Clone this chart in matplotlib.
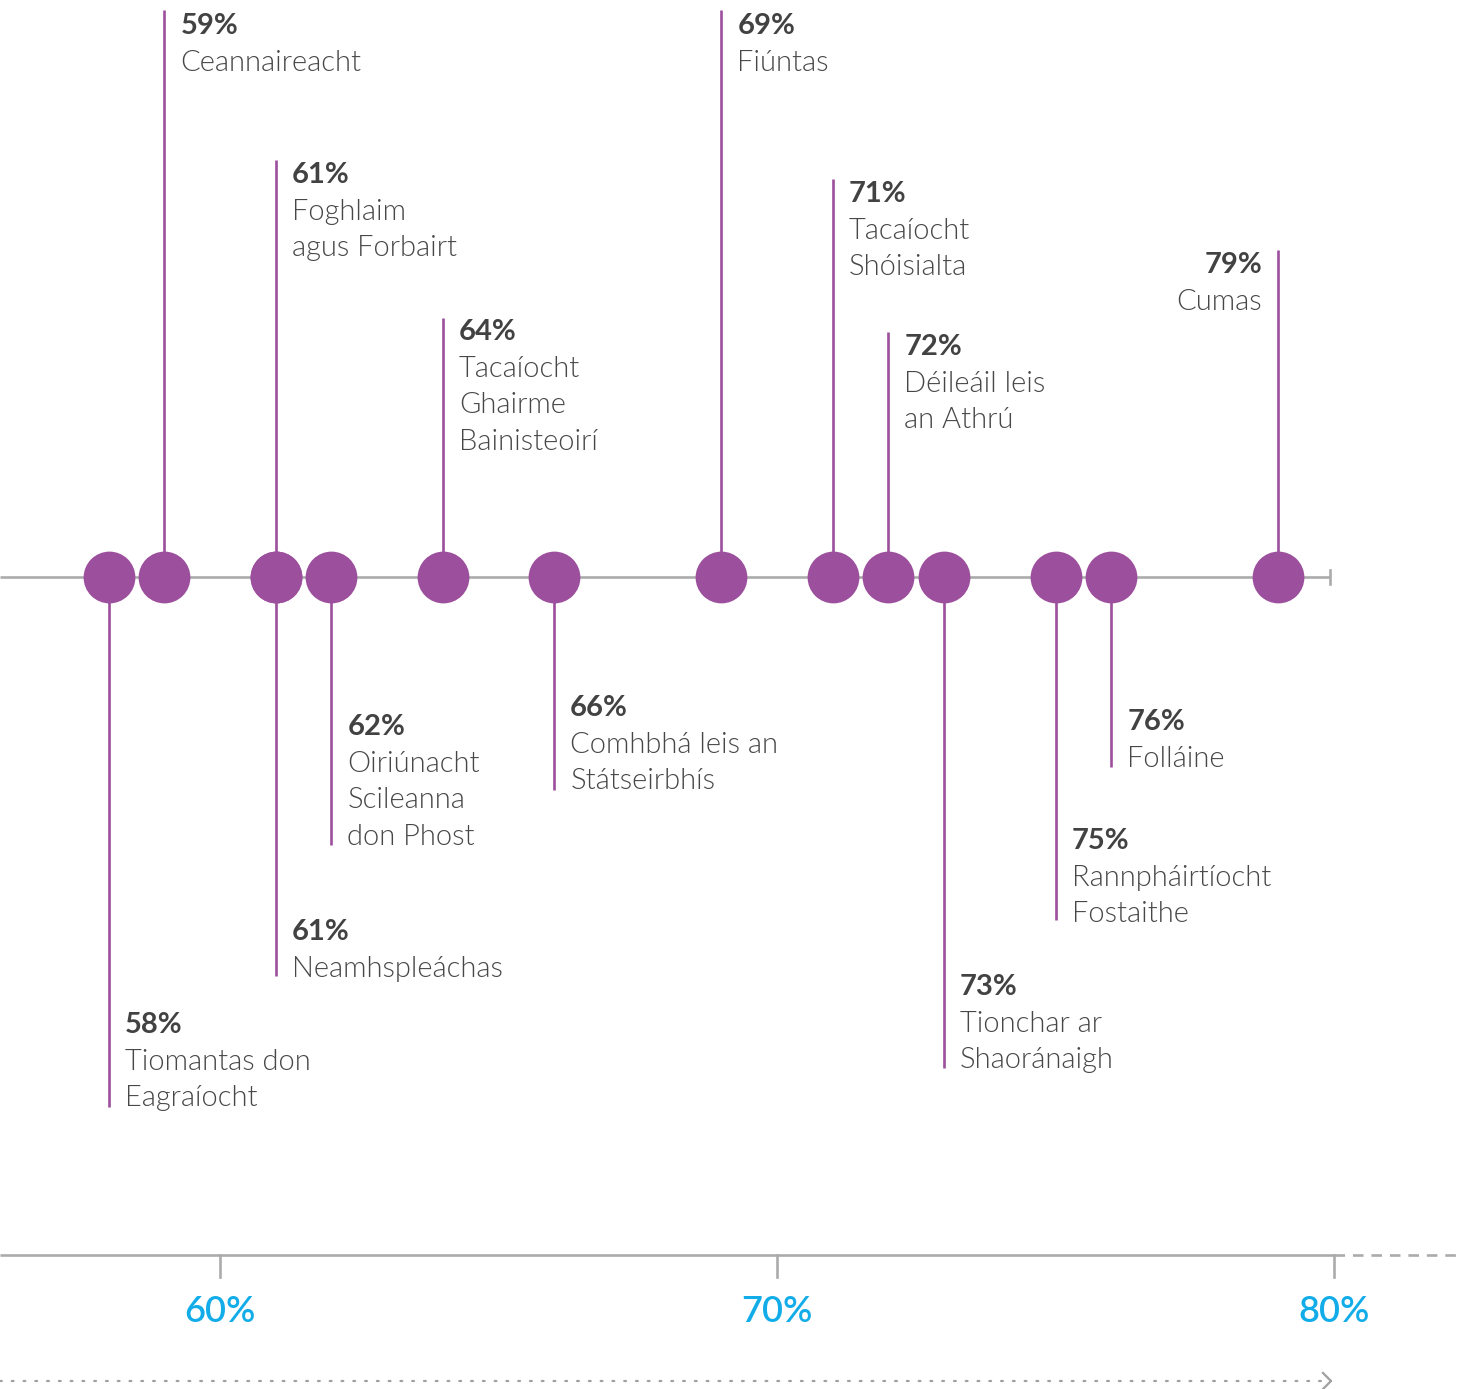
import matplotlib
matplotlib.use("Agg")
import matplotlib.pyplot as plt
from matplotlib import font_manager

# ---- data ----
values = [58, 59, 61, 61, 62, 64, 66, 69, 71, 72, 73, 75, 76, 79]
names = [
    "Tiomantas don\nEagraíocht",
    "Ceannaireacht",
    "Foghlaim\nagus Forbairt",
    "Neamhspleáchas",
    "Oiriúnacht\nScileanna\ndon Phost",
    "Tacaíocht\nGhairme\nBainisteoirí",
    "Comhbhá leis an\nStátseirbhís",
    "Fiúntas",
    "Tacaíocht\nShóisialta",
    "Déileáil leis\nan Athrú",
    "Tionchar ar\nShaoránaigh",
    "Rannpháirtíocht\nFostaithe",
    "Folláine",
    "Cumas",
]
tick_values = [60, 70, 80]
tick_labels = ["60%", "70%", "80%"]

# ---- layout (pixel positions of label blocks) ----
stem_end = [1107, 10, 160, 976, 845, 318, 790, 10, 179, 332, 1068, 920, 767, 250]
text_top = [1025, 26, 175, 932, 727, 332, 708, 26, 194, 347, 987, 841, 722, 265]
align_right = [False]*13 + [True]

W, H = 1461, 1389
DPI = 100
fig = plt.figure(figsize=(W/DPI, H/DPI), dpi=DPI)
ax = fig.add_axes([0, 0, 1, 1])

slope = 55.7
x0 = 60 - 220 / slope
x1 = x0 + W / slope
ax.set_xlim(x0, x1)
ax.set_ylim(H, 0)
ax.axis("off")

px = 1 / slope

purple = "#9c4f9c"
grey = "#ababab"
blue = "#12ade9"
dark = "#424242"
mid = "#474747"

fams = [f.name for f in font_manager.fontManager.ttflist]
FONT = "Lato" if "Lato" in fams else "DejaVu Sans"

LINE_Y = 577
LS = 36.6

ax.plot([x0, 80 - 4 * px], [LINE_Y, LINE_Y], color=grey, lw=1.9, zorder=1, solid_capstyle="butt")
ax.plot([80 - 4 * px] * 2, [LINE_Y - 7, LINE_Y + 7], color=grey, lw=1.9, zorder=1)

for v, name, se, tt, ar in zip(values, names, stem_end, text_top, align_right):
    ax.plot([v, v], [LINE_Y, se], color=purple, lw=1.9, zorder=2, solid_capstyle="butt")
    if ar:
        tx = v - 16 * px
        ha = "right"
    else:
        tx = v + 16 * px
        ha = "left"
    ax.text(tx, tt, f"{v}%", ha=ha, va="center", fontsize=21, fontweight=700,
            color=dark, family=FONT)
    for i, line in enumerate(name.split("\n")):
        ax.text(tx, tt + (i + 1) * LS, line, ha=ha, va="center", fontsize=21,
                fontweight=300, color=mid, family=FONT)

ax.scatter(values, [LINE_Y] * len(values), s=1390, color=purple, zorder=3, linewidths=0)

AX_Y = 1255
ax.plot([x0, 80], [AX_Y, AX_Y], color=grey, lw=1.9, solid_capstyle="butt")
ax.plot([80, x1], [AX_Y, AX_Y], color=grey, lw=1.9, ls=(0, (4, 3)))
for t, lab in zip(tick_values, tick_labels):
    ax.plot([t, t], [AX_Y, AX_Y + 22], color=grey, lw=1.9)
    ax.text(t, 1311, lab, ha="center", va="center", fontsize=26, fontweight=600,
            color=blue, family=FONT)

ARR_Y = 1381
ax.plot([x0, 80 - 3 * px], [ARR_Y, ARR_Y], color="#a0a0a0", lw=1.6,
        ls=(0, (0.8, 4.5)), dash_capstyle="round")
ax.plot([80 - 11 * px, 80 - 3 * px, 80 - 11 * px], [ARR_Y - 8, ARR_Y, ARR_Y + 8],
        color="#a0a0a0", lw=1.6)

fig.savefig("out.png", dpi=DPI)
